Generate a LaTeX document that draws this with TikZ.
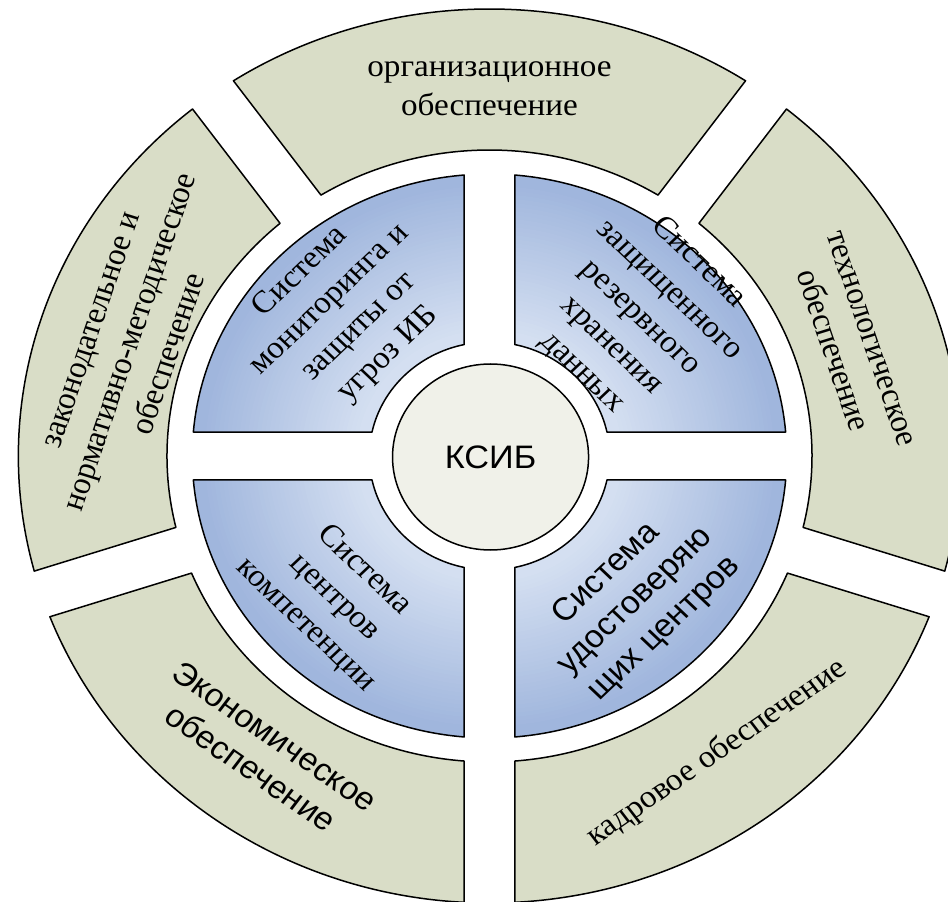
\documentclass[tikz,border=0pt]{standalone}
\usepackage{fontspec}
\setmainfont{Liberation Serif}
\newfontfamily\arialfont{Liberation Sans}
\usetikzlibrary{shapes.geometric}
\definecolor{ringfill}{RGB}{217,221,199}
\definecolor{corefill}{RGB}{240,241,233}
\definecolor{qlight}{RGB}{212,223,241}
\definecolor{qdark}{RGB}{160,182,221}
\begin{document}
\begin{tikzpicture}[x=1pt,y=1pt,
  ringseg/.style={fill=ringfill, draw=black, line width=1.5pt, line join=round},
  quadline/.style={draw=black, line width=1.5pt, line join=round},
  lbl/.style={align=center, inner sep=0pt, transform shape, font=\fontsize{31.5}{39}\selectfont},
  slbl/.style={align=center, inner sep=0pt, transform shape, font=\arialfont\fontsize{32}{39}\selectfont}]
\useasboundingbox (-489.5,-446) rectangle (458.5,456);
\clip (-489.5,-446) rectangle (458.5,456);
\pgfmathsetmacro\gp{24}
\begin{scope}[xscale=1.054]
  % outer ring segments
  \foreach \a/\b in {54/126, -18/54, -90/-18, -162/-90, 126/198}{
    \pgfmathsetmacro\oA{\a+asin(\gp/447)}
    \pgfmathsetmacro\oB{\b-asin(\gp/447)}
    \pgfmathsetmacro\iA{\a+asin(\gp/306)}
    \pgfmathsetmacro\iB{\b-asin(\gp/306)}
    \path[ringseg] (\oA:447) arc[start angle=\oA, end angle=\oB, radius=447]
      -- (\iB:306) arc[start angle=\iB, end angle=\iA, radius=306] -- cycle;
  }
  % inner quadrants
  \foreach \a in {0,90,180,270}{
    \pgfmathsetmacro\oA{\a+asin(\gp/282)}
    \pgfmathsetmacro\oB{\a+90-asin(\gp/282)}
    \pgfmathsetmacro\iA{\a+asin(\gp/114)}
    \pgfmathsetmacro\iB{\a+90-asin(\gp/114)}
    \begin{scope}
      \clip (\oA:282) arc[start angle=\oA, end angle=\oB, radius=282]
        -- (\iB:114) arc[start angle=\iB, end angle=\iA, radius=114] -- cycle;
      \foreach \r in {290,286,...,110}{
        \pgfmathsetmacro\t{max(0,min(100,(\r-125)/150*100))}
        \fill[qdark!\t!qlight] (0,0) circle (\r);
      }
    \end{scope}
    \path[quadline] (\oA:282) arc[start angle=\oA, end angle=\oB, radius=282]
      -- (\iB:114) arc[start angle=\iB, end angle=\iA, radius=114] -- cycle;
  }
  % ring texts
  \node[lbl] (org) at (90:367) {организационное\\обеспечение};
  \node[lbl, rotate=-72] (tech) at (18:360) {технологическое\\обеспечение};
  \node[lbl, rotate=36] (kadr) at (-54:367) {кадровое обеспечение};
  \node[slbl, rotate=-36] (econ) at (-126:366) {Экономическое\\обеспечение};
  \node[lbl, rotate=72] (zakon) at (161.5:358) {законодательное и\\нормативно-методическое\\обеспечение};
  % quadrant texts
  \node[lbl, rotate=45] (mon) at (134:198) {Система\\мониторинга и\\защиты от\\угроз ИБ};
  \node[lbl, rotate=-45] (rez) at (44:199) {Система\\защищенного\\резервного\\хранения\\данных};
  \node[lbl, rotate=-45] (komp) at (-136:204) {Система\\центров\\компетенции};
  \node[slbl, rotate=45] (udost) at (-46.4:201) {Система\\удостоверяю\\щих центров};
  % core
  \node[circle, draw=black, line width=1.5pt, fill=corefill, minimum size=186pt, inner sep=0pt, transform shape, font=\arialfont\fontsize{32.5}{36}\selectfont] (core) at (1,-1) {КСИБ};
\end{scope}
\end{tikzpicture}
\end{document}
